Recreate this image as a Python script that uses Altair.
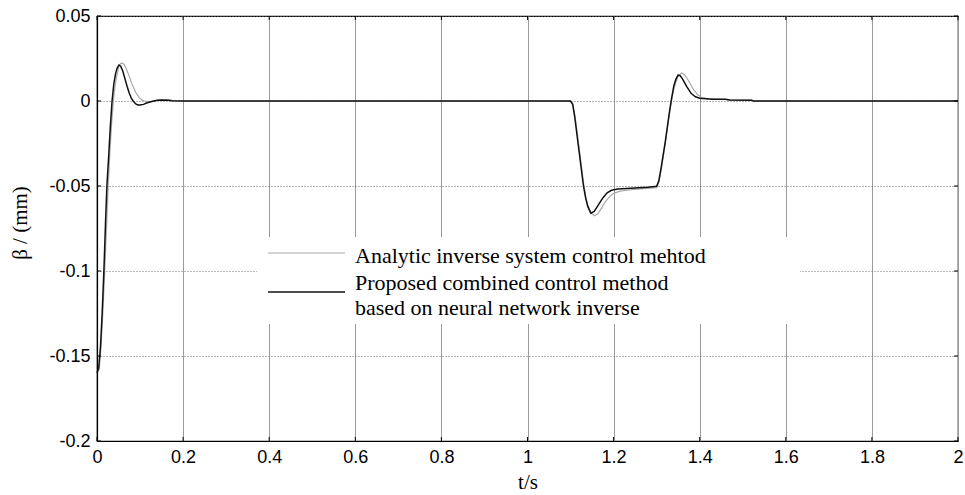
import altair as alt
import pandas as pd

# ---- data ----
t_nn = [0, 0.004, 0.008, 0.012, 0.016, 0.02, 0.023, 0.027, 0.031, 0.035, 0.039, 0.043,
        0.047, 0.051, 0.055, 0.06, 0.065, 0.07, 0.075, 0.08, 0.084, 0.09, 0.095, 0.1,
        0.108, 0.115, 0.125, 0.135, 0.14, 0.15, 0.165, 0.175, 0.2, 1.1, 1.105, 1.11,
        1.115, 1.12, 1.125, 1.13, 1.135, 1.14, 1.147, 1.155, 1.165, 1.175, 1.185, 1.195,
        1.21, 1.23, 1.26, 1.28, 1.3, 1.305, 1.31, 1.315, 1.32, 1.325, 1.33, 1.335, 1.34,
        1.345, 1.35, 1.355, 1.36, 1.37, 1.38, 1.39, 1.4, 1.43, 1.46, 1.47, 1.52, 1.525, 2.0]
v_nn = [-0.16, -0.157, -0.145, -0.125, -0.1, -0.07, -0.05, -0.033, -0.015, 0, 0.01, 0.016,
        0.0195, 0.0212, 0.0205, 0.0175, 0.013, 0.0085, 0.0045, 0.0015, 0, -0.0017, -0.0023,
        -0.0024, -0.002, -0.0012, -0.0004, 0.0002, 0.0005, 0.0006, 0.0005, 0.0001, 0, 0,
        -0.002, -0.01, -0.02, -0.03, -0.04, -0.05, -0.057, -0.062, -0.066, -0.065, -0.061,
        -0.057, -0.054, -0.0525, -0.0518, -0.0515, -0.051, -0.0508, -0.0502, -0.047, -0.04,
        -0.032, -0.024, -0.015, -0.006, 0.002, 0.009, 0.013, 0.0153, 0.0148, 0.013, 0.0085,
        0.0045, 0.0025, 0.0016, 0.0011, 0.001, 0.0006, 0.0005, 0, 0]

t_an = [0, 0.005, 0.01, 0.014, 0.018, 0.022, 0.026, 0.03, 0.034, 0.038, 0.042, 0.046, 0.05,
        0.054, 0.058, 0.063, 0.068, 0.075, 0.082, 0.09, 0.098, 0.105, 0.11, 0.118, 0.125,
        0.135, 0.145, 0.16, 0.17, 0.18, 0.2, 1.1, 1.105, 1.11, 1.115, 1.12, 1.125, 1.13,
        1.135, 1.14, 1.147, 1.155, 1.163, 1.172, 1.18, 1.19, 1.2, 1.215, 1.24, 1.27, 1.3,
        1.305, 1.31, 1.315, 1.32, 1.325, 1.33, 1.335, 1.34, 1.345, 1.35, 1.358, 1.365, 1.375,
        1.385, 1.395, 1.405, 1.42, 1.45, 1.47, 1.52, 1.525, 2.0]
v_an = [-0.16, -0.158, -0.142, -0.122, -0.1, -0.075, -0.05, -0.03, -0.013, 0, 0.009, 0.015,
        0.0195, 0.0218, 0.0224, 0.0215, 0.019, 0.0145, 0.0095, 0.005, 0.002, 0.0005, 0,
        -0.0004, -0.0003, 0.0002, 0.0006, 0.0007, 0.0005, 0, 0, 0, -0.0015, -0.008, -0.018,
        -0.028, -0.038, -0.048, -0.056, -0.0615, -0.0655, -0.0675, -0.0665, -0.063, -0.0595,
        -0.0565, -0.0543, -0.053, -0.0522, -0.0515, -0.051, -0.048, -0.041, -0.033, -0.025,
        -0.016, -0.007, 0.001, 0.007, 0.0115, 0.0145, 0.0165, 0.0155, 0.0115, 0.007, 0.0038,
        0.002, 0.0013, 0.001, 0.0007, 0.0005, 0, 0]

x_ticks = [0, 0.2, 0.4, 0.6, 0.8, 1.0, 1.2, 1.4, 1.6, 1.8, 2.0]
y_ticks = [-0.2, -0.15, -0.1, -0.05, 0, 0.05]
legend_labels = ["Analytic inverse system control mehtod",
                 "Proposed combined control method",
                 "based on neural network inverse"]

W, H = 861, 425

df_nn = pd.DataFrame({"t": t_nn, "v": v_nn})
df_an = pd.DataFrame({"t": t_an, "v": v_an})
df_xt = pd.DataFrame({"t": x_ticks})
df_yt = pd.DataFrame({"v": y_ticks})
df_one = pd.DataFrame({"k": [0]})

xs = alt.Scale(domain=[0, 2], nice=False, zero=False)
ys = alt.Scale(domain=[-0.2, 0.05], nice=False, zero=False)

lbl = "replace(format(datum.value, '~g'), '\u2212', '-')"

x_axis = alt.Axis(values=x_ticks, labelExpr=lbl,
                  title=None, grid=True, gridColor="#9a9a9a", gridWidth=1,
                  tickSize=0, labelFont="Liberation Sans", labelFontSize=18,
                  labelColor="black", labelPadding=7, domainColor="black",
                  domainWidth=1.2, labelFlush=False)
y_axis = alt.Axis(values=y_ticks, labelExpr=lbl,
                  title=None, grid=True, gridColor="#707070", gridWidth=1,
                  gridDash=[1, 2], tickSize=0, labelFont="Liberation Sans",
                  labelFontSize=18, labelColor="black", labelPadding=7,
                  domainColor="black", domainWidth=1.2, labelFlush=False)

base_axes = alt.Chart(df_yt).mark_point(opacity=0).encode(
    x=alt.X("v:Q", scale=xs, axis=x_axis),
    y=alt.Y("v:Q", scale=ys, axis=y_axis),
)

# inward tick marks (MATLAB style)
xt_bottom = alt.Chart(df_xt).mark_rule(color="black", strokeWidth=1).encode(
    x=alt.X("t:Q", scale=xs), y=alt.value(H), y2=alt.value(H - 4))
xt_top = alt.Chart(df_xt).mark_rule(color="black", strokeWidth=1).encode(
    x=alt.X("t:Q", scale=xs), y=alt.value(0), y2=alt.value(4))
yt_left = alt.Chart(df_yt).mark_rule(color="black", strokeWidth=1).encode(
    y=alt.Y("v:Q", scale=ys), x=alt.value(0), x2=alt.value(4))
yt_right = alt.Chart(df_yt).mark_rule(color="black", strokeWidth=1).encode(
    y=alt.Y("v:Q", scale=ys), x=alt.value(W), x2=alt.value(W - 4))

line_an = alt.Chart(df_an).mark_line(color="#a8a8a8", strokeWidth=1.2).encode(
    x=alt.X("t:Q", scale=xs), y=alt.Y("v:Q", scale=ys))
line_nn = alt.Chart(df_nn).mark_line(color="#111111", strokeWidth=1.5).encode(
    x=alt.X("t:Q", scale=xs), y=alt.Y("v:Q", scale=ys))

# legend box (white, no border)
leg_box = alt.Chart(df_one).mark_rect(color="white").encode(
    x=alt.value(160), x2=alt.value(703), y=alt.value(221), y2=alt.value(308))
leg_l1 = alt.Chart(df_one).mark_rule(color="#a8a8a8", strokeWidth=1.2).encode(
    x=alt.value(171), x2=alt.value(248), y=alt.value(237))
leg_l2 = alt.Chart(df_one).mark_rule(color="#111111", strokeWidth=1.5).encode(
    x=alt.value(171), x2=alt.value(248), y=alt.value(276))

leg_texts = []
for lab, yy in zip(legend_labels, [247, 274, 299]):
    leg_texts.append(alt.Chart(df_one).mark_text(
        text=lab, align="left", baseline="alphabetic", font="Liberation Serif",
        fontSize=22, color="black").encode(x=alt.value(258), y=alt.value(yy)))

x_title = alt.Chart(df_one).mark_text(
    text="t/s", font="Liberation Serif", fontSize=21, color="black",
    align="center", baseline="middle").encode(x=alt.value(431), y=alt.value(467))
y_title = alt.Chart(df_one).mark_text(
    text="β / (mm)", font="Liberation Serif", fontSize=21, color="black",
    align="center", baseline="middle", angle=270).encode(x=alt.value(-76), y=alt.value(207))

chart = alt.layer(
    base_axes, line_an, line_nn, leg_box, leg_l1, leg_l2, *leg_texts,
    xt_bottom, xt_top, yt_left, yt_right, x_title, y_title
).properties(
    width=W, height=H,
    autosize=alt.AutoSizeParams(type="none"),
    padding={"left": 97, "top": 16, "right": 7, "bottom": 54},
    background="white",
).configure_view(stroke="black", strokeWidth=1.2)

chart.save("out.html", embed_options={"renderer": "svg", "actions": False})
